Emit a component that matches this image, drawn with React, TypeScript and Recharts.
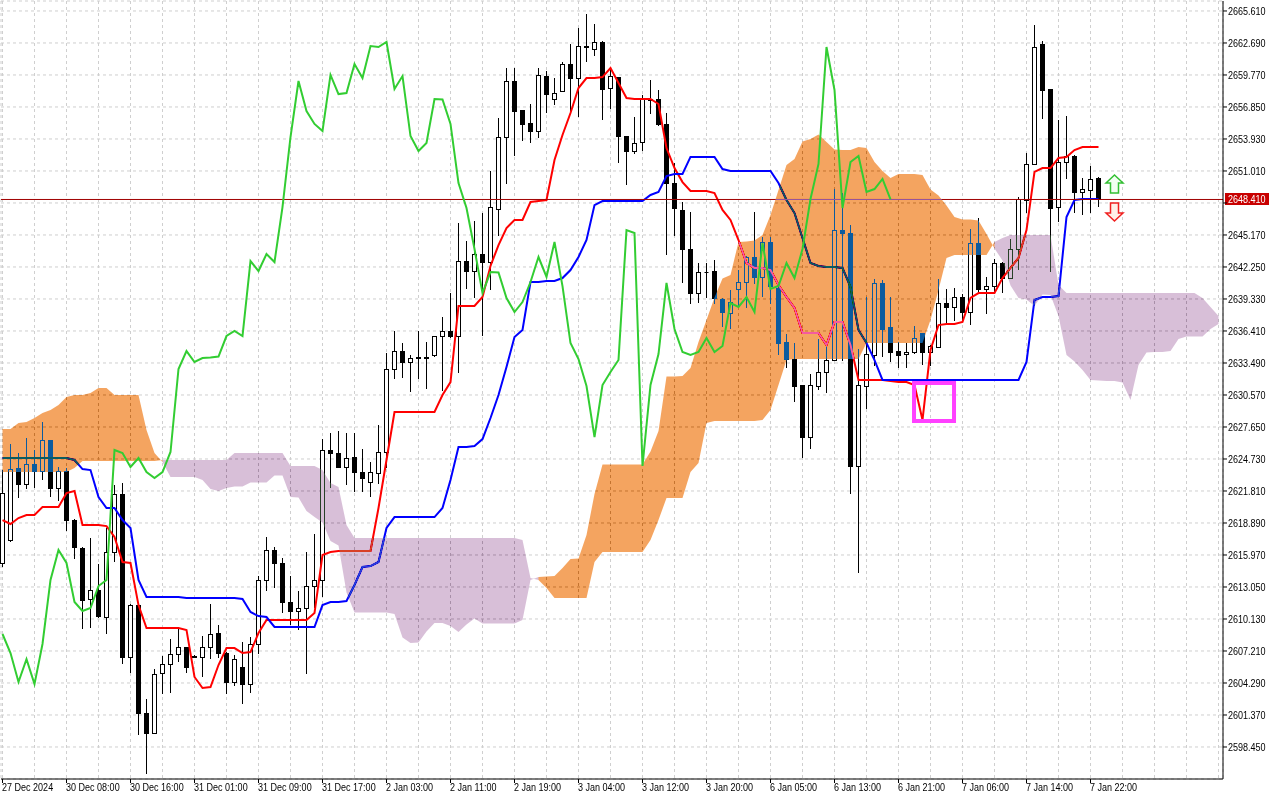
import {
  ComposedChart,
  Bar,
  Line,
  Area,
  XAxis,
  YAxis,
  CartesianGrid,
  ReferenceLine,
  ReferenceArea,
  ReferenceDot,
} from "recharts";

const FONT = "'Liberation Sans', Arial, sans-serif";
const FONT_SIZE = 10.5;
const TEXT_SQUEEZE = 0.86; // terminal font is narrower than Liberation Sans

// XAUUSD H1, bar 0 = 27 Dec 2024 23:00, last bar = 7 Jan 2025 23:00
const OPEN = [
  2615.24, 2617.34, 2623.91, 2622.45, 2624.27, 2623.63, 2626.46, 2622.08, 2623.63, 2619.16,
  2616.6, 2611.95, 2612.77, 2610.31, 2616.24, 2621.53, 2606.66, 2611.4, 2601.55, 2599.72,
  2605.2, 2606.02, 2606.93, 2607.57, 2606.75, 2606.66, 2607.57, 2608.85, 2607.02, 2604.38,
  2605.75, 2604.19, 2607.85, 2613.69, 2616.42, 2615.24, 2611.68, 2610.86, 2611.13, 2613.14,
  2613.69, 2625.55, 2625.27, 2624.0, 2624.91, 2623.54, 2622.63, 2623.45, 2625.37, 2632.94,
  2634.58, 2633.58, 2634.04, 2633.99, 2634.22, 2635.95, 2636.41, 2635.95, 2642.79, 2641.88,
  2643.43, 2642.7, 2647.54, 2654.11, 2659.22, 2656.57, 2655.39, 2654.66, 2659.67, 2657.58,
  2658.31, 2660.77, 2659.49, 2662.37, 2662.14, 2662.78, 2658.58, 2659.58, 2654.2, 2652.83,
  2653.65, 2657.58, 2657.58, 2655.3, 2649.91, 2647.45, 2643.89, 2639.87, 2641.79, 2641.88,
  2639.33, 2638.05, 2640.24, 2640.88, 2643.16, 2641.34, 2644.53, 2640.33, 2635.4, 2633.85,
  2631.48, 2626.73, 2631.39, 2632.67, 2633.76, 2645.62, 2645.35, 2624.09, 2631.39, 2634.22,
  2640.79, 2636.77, 2634.58, 2634.31, 2634.49, 2636.22, 2634.49, 2634.95, 2638.96, 2638.6,
  2639.51, 2638.14, 2644.43, 2640.24, 2640.51, 2642.61, 2641.24, 2643.89, 2648.36, 2651.65,
  2662.59, 2658.49, 2647.72, 2651.83, 2652.38, 2649.09, 2649.27, 2650.37,
];

const HIGH = [
  2623.72, 2626.1, 2625.27, 2626.64, 2625.55, 2628.1, 2626.46, 2624.0, 2623.91, 2619.25,
  2616.7, 2617.52, 2615.15, 2618.43, 2622.35, 2622.54, 2611.49, 2611.4, 2602.83, 2605.56,
  2606.75, 2608.3, 2609.4, 2607.57, 2606.84, 2608.58, 2611.49, 2609.58, 2607.11, 2606.84,
  2608.03, 2608.49, 2614.05, 2617.61, 2616.7, 2615.69, 2614.05, 2612.68, 2616.24, 2617.88,
  2626.55, 2627.1, 2627.28, 2627.1, 2627.1, 2625.64, 2624.45, 2627.83, 2634.4, 2636.41,
  2635.31, 2634.22, 2636.41, 2635.4, 2635.95, 2637.69, 2639.87, 2646.26, 2644.62, 2646.44,
  2647.17, 2651.01, 2655.84, 2660.4, 2660.4, 2656.57, 2657.12, 2660.4, 2660.13, 2659.49,
  2660.95, 2662.59, 2664.05, 2665.33, 2664.42, 2662.87, 2660.5, 2659.58, 2654.2, 2655.93,
  2657.94, 2659.31, 2658.4, 2656.3, 2651.74, 2648.18, 2647.27, 2642.61, 2642.61, 2642.89,
  2639.42, 2640.15, 2641.97, 2643.25, 2647.27, 2644.99, 2644.99, 2640.79, 2636.13, 2635.31,
  2631.48, 2632.48, 2635.68, 2635.04, 2649.36, 2649.0, 2646.08, 2634.77, 2639.51, 2641.16,
  2641.06, 2639.51, 2635.4, 2635.31, 2636.87, 2636.22, 2635.13, 2641.16, 2640.24, 2640.33,
  2639.78, 2645.71, 2646.72, 2641.34, 2642.97, 2642.7, 2644.8, 2648.64, 2652.65, 2664.33,
  2662.87, 2658.49, 2655.66, 2656.03, 2652.47, 2650.37, 2651.46, 2650.46,
];

const LOW = [
  2614.96, 2617.24, 2621.26, 2622.08, 2622.17, 2622.9, 2621.35, 2620.99, 2618.25, 2615.69,
  2609.31, 2609.4, 2610.31, 2608.85, 2615.42, 2606.11, 2605.29, 2599.63, 2596.07, 2599.72,
  2603.37, 2603.46, 2606.29, 2605.29, 2606.66, 2604.93, 2606.57, 2606.66, 2603.37, 2604.1,
  2602.46, 2603.46, 2607.02, 2612.77, 2613.05, 2610.77, 2609.67, 2609.22, 2605.2, 2611.22,
  2612.22, 2622.17, 2624.0, 2622.45, 2621.81, 2621.81, 2621.35, 2622.54, 2624.0, 2632.12,
  2632.21, 2630.93, 2632.12, 2631.2, 2634.13, 2631.02, 2635.86, 2632.67, 2640.33, 2639.51,
  2636.04, 2640.24, 2645.17, 2649.91, 2652.47, 2653.84, 2653.65, 2654.11, 2656.39, 2657.12,
  2658.31, 2656.57, 2656.03, 2661.04, 2661.59, 2655.75, 2656.75, 2651.83, 2649.82, 2652.65,
  2652.92, 2656.3, 2655.21, 2643.43, 2645.17, 2640.88, 2638.96, 2639.05, 2639.51, 2638.96,
  2636.87, 2636.68, 2638.69, 2638.6, 2640.79, 2639.6, 2638.96, 2634.31, 2633.12, 2630.02,
  2624.91, 2625.73, 2631.11, 2630.84, 2633.76, 2633.76, 2621.62, 2614.42, 2629.38, 2633.31,
  2634.13, 2633.67, 2633.12, 2633.12, 2634.4, 2633.4, 2633.31, 2634.95, 2637.05, 2637.41,
  2637.41, 2637.05, 2639.87, 2638.05, 2640.06, 2639.97, 2641.24, 2642.06, 2647.27, 2651.65,
  2655.84, 2641.88, 2646.44, 2650.37, 2647.27, 2647.08, 2647.27, 2647.81,
];

const CLOSE = [
  2621.62, 2623.81, 2622.45, 2624.27, 2623.63, 2626.46, 2622.08, 2623.63, 2619.16, 2616.7,
  2611.86, 2612.77, 2610.4, 2616.24, 2621.53, 2606.66, 2611.4, 2601.55, 2599.72, 2605.11,
  2606.02, 2606.93, 2607.57, 2605.75, 2606.7, 2607.57, 2608.76, 2607.02, 2604.38, 2606.47,
  2604.19, 2607.85, 2613.69, 2616.42, 2615.24, 2611.68, 2610.86, 2611.13, 2613.14, 2613.69,
  2625.55, 2625.27, 2624.0, 2624.82, 2623.54, 2622.99, 2623.54, 2625.37, 2632.94, 2634.58,
  2633.58, 2633.94, 2633.99, 2634.08, 2635.95, 2636.41, 2635.95, 2642.79, 2641.88, 2643.43,
  2642.7, 2647.72, 2654.11, 2659.22, 2656.48, 2655.3, 2654.66, 2659.77, 2658.03, 2658.12,
  2660.77, 2659.49, 2662.41, 2662.32, 2662.78, 2658.49, 2659.67, 2654.2, 2652.83, 2653.56,
  2657.58, 2657.53, 2655.3, 2649.91, 2647.63, 2643.89, 2639.87, 2641.79, 2641.75, 2639.42,
  2638.14, 2639.05, 2640.88, 2643.16, 2641.34, 2644.53, 2640.51, 2635.31, 2633.85, 2631.39,
  2626.73, 2631.48, 2632.67, 2633.76, 2645.62, 2645.35, 2624.09, 2631.48, 2634.31, 2640.79,
  2636.59, 2634.49, 2634.22, 2634.49, 2635.77, 2634.49, 2635.04, 2638.96, 2638.6, 2639.51,
  2638.14, 2644.43, 2640.24, 2640.51, 2642.61, 2641.24, 2643.89, 2648.45, 2651.65, 2662.32,
  2658.4, 2647.63, 2651.83, 2652.38, 2649.09, 2649.36, 2650.28, 2648.41,
];

// Tenkan-sen (9)
const TENKAN = [
  2619.16, 2618.8, 2619.34, 2619.62, 2619.62, 2620.35, 2620.35, 2620.35, 2621.62, 2621.81,
  2618.71, 2618.71, 2618.71, 2618.61, 2617.61, 2615.33, 2615.24, 2611.4, 2609.31, 2609.31,
  2609.31, 2609.31, 2609.31, 2609.13, 2604.84, 2603.83, 2603.92, 2605.93, 2607.48, 2607.48,
  2607.02, 2607.11, 2608.85, 2610.04, 2610.04, 2610.04, 2610.04, 2610.04, 2610.04, 2610.67,
  2615.97, 2616.24, 2616.33, 2616.33, 2616.33, 2616.33, 2616.33, 2620.26, 2624.64, 2629.02,
  2629.02, 2629.02, 2629.02, 2629.02, 2629.02, 2630.57, 2631.75, 2638.69, 2638.69, 2638.69,
  2639.51, 2642.34, 2644.25, 2645.81, 2646.54, 2646.54, 2648.18, 2648.27, 2648.36, 2652.01,
  2654.29, 2656.3, 2658.58, 2659.49, 2659.49, 2659.58, 2660.4, 2659.04, 2657.67, 2657.58,
  2657.58, 2657.58, 2657.12, 2653.1, 2651.28, 2650.0, 2649.18, 2649.18, 2649.18, 2649.0,
  2647.45, 2646.54, 2644.71, 2642.61, 2642.16, 2642.16, 2641.97, 2640.6, 2639.51, 2638.51,
  2636.22, 2636.22, 2636.22, 2635.13, 2637.23, 2637.23, 2635.13, 2631.94, 2631.94, 2631.94,
  2631.94, 2631.85, 2631.75, 2631.75, 2631.48, 2628.29, 2634.67, 2636.95, 2637.05, 2637.05,
  2637.23, 2639.42, 2639.87, 2639.87, 2639.87, 2641.24, 2642.16, 2643.07, 2645.62, 2650.92,
  2651.28, 2651.28, 2652.19, 2652.29, 2652.92, 2653.2, 2653.2, 2653.2,
];

// Kijun-sen (26)
const KIJUN = [
  2624.82, 2624.82, 2624.82, 2624.82, 2624.82, 2624.82, 2624.82, 2624.82, 2624.82, 2624.64,
  2623.81, 2623.72, 2621.26, 2620.26, 2620.26, 2619.16, 2618.43, 2613.69, 2612.14, 2612.14,
  2612.14, 2612.14, 2612.14, 2612.04, 2612.04, 2612.04, 2612.04, 2612.04, 2612.04, 2612.04,
  2611.95, 2610.77, 2610.4, 2610.31, 2609.4, 2609.4, 2609.4, 2609.4, 2609.4, 2609.4,
  2611.4, 2611.68, 2611.68, 2611.77, 2613.23, 2614.87, 2614.96, 2615.33, 2618.43, 2619.43,
  2619.43, 2619.43, 2619.43, 2619.43, 2619.43, 2620.26, 2622.81, 2625.82, 2625.82, 2625.91,
  2626.55, 2628.47, 2630.57, 2633.12, 2635.86, 2636.5, 2640.88, 2640.88, 2640.97, 2640.97,
  2641.24, 2641.97, 2643.16, 2644.71, 2647.9, 2648.27, 2648.27, 2648.27, 2648.27, 2648.27,
  2648.27, 2648.82, 2649.09, 2650.55, 2650.73, 2650.73, 2652.29, 2652.29, 2652.29, 2652.29,
  2651.19, 2651.01, 2651.01, 2651.01, 2651.01, 2651.01, 2651.01, 2649.91, 2648.36, 2647.17,
  2644.89, 2642.61, 2642.34, 2642.25, 2642.25, 2642.16, 2640.42, 2636.5, 2635.31, 2633.76,
  2631.94, 2631.94, 2631.94, 2631.94, 2631.94, 2631.94, 2631.94, 2631.94, 2631.94, 2631.94,
  2631.94, 2631.94, 2631.94, 2631.94, 2631.94, 2631.94, 2631.94, 2631.94, 2633.58, 2639.24,
  2639.51, 2639.51, 2639.6, 2646.81, 2648.36, 2648.45, 2648.45, 2648.45,
];

// Senkou Span A / B as displayed (already shifted 26 bars forward)
const SPAN_A = [
  2627.46, 2627.46, 2628.01, 2628.1, 2628.47, 2628.92, 2629.2, 2629.65, 2630.38, 2630.57,
  2630.57, 2630.75, 2631.2, 2631.2, 2630.57, 2630.57, 2630.57, 2630.57, 2627.37, 2625.27,
  2624.45, 2623.08, 2623.08, 2623.08, 2623.08, 2622.81, 2621.99, 2621.81, 2622.08, 2622.22,
  2622.22, 2622.58, 2622.58, 2622.58, 2623.22, 2623.22, 2621.26, 2621.22, 2619.98, 2619.43,
  2618.93, 2617.24, 2616.83, 2612.55, 2610.72, 2610.72, 2610.72, 2610.72, 2610.72, 2610.59,
  2608.44, 2607.94, 2607.98, 2608.98, 2609.76, 2609.76, 2609.49, 2608.94, 2609.62, 2610.17,
  2609.71, 2609.71, 2609.71, 2609.71, 2609.71, 2610.04, 2613.69, 2613.96, 2614.01, 2614.05,
  2614.78, 2615.6, 2615.65, 2617.79, 2621.53, 2624.23, 2624.23, 2624.23, 2624.23, 2624.23,
  2624.23, 2625.41, 2627.28, 2632.25, 2632.25, 2632.3, 2633.03, 2635.4, 2637.41, 2639.46,
  2641.2, 2641.52, 2644.53, 2644.57, 2644.66, 2645.17, 2646.99, 2649.27, 2651.55, 2652.1,
  2653.7, 2653.93, 2654.34, 2653.65, 2652.97, 2652.92, 2652.92, 2653.2, 2653.1, 2651.83,
  2651.01, 2650.37, 2650.73, 2650.73, 2650.73, 2650.64, 2649.32, 2648.77, 2647.86, 2646.81,
  2646.58, 2646.58, 2646.49, 2645.26, 2643.94, 2642.84, 2640.56, 2639.42, 2639.28, 2638.69,
  2639.74, 2639.69, 2637.78, 2634.22, 2633.63, 2632.85, 2631.94, 2631.89, 2631.85, 2631.85,
  2631.71, 2630.11, 2633.31, 2634.45, 2634.49, 2634.49, 2634.58, 2635.68, 2635.91, 2635.91,
  2635.91, 2636.59, 2637.05,
];

const SPAN_B = [
  2623.54, 2623.54, 2623.54, 2623.54, 2623.54, 2623.54, 2623.54, 2623.54, 2623.54, 2623.91,
  2624.55, 2624.55, 2624.55, 2624.55, 2624.55, 2624.55, 2624.55, 2624.55, 2624.55, 2624.55,
  2624.64, 2624.64, 2624.64, 2624.64, 2624.64, 2624.64, 2624.64, 2624.64, 2624.64, 2625.27,
  2625.27, 2625.27, 2625.27, 2625.27, 2625.27, 2625.27, 2624.09, 2624.09, 2624.09, 2624.09,
  2623.72, 2622.54, 2622.17, 2618.71, 2617.52, 2617.52, 2617.52, 2617.52, 2617.52, 2617.52,
  2617.52, 2617.52, 2617.52, 2617.52, 2617.52, 2617.52, 2617.52, 2617.52, 2617.52, 2617.52,
  2617.52, 2617.52, 2617.52, 2617.52, 2617.52, 2617.34, 2613.87, 2613.69, 2612.96, 2612.04,
  2612.04, 2612.04, 2612.04, 2612.04, 2615.33, 2616.24, 2616.24, 2616.24, 2616.24, 2616.24,
  2616.24, 2617.34, 2619.16, 2621.17, 2621.17, 2621.17, 2623.54, 2624.36, 2628.01, 2628.19,
  2628.19, 2628.19, 2628.19, 2628.19, 2628.19, 2628.29, 2629.2, 2631.48, 2633.76, 2633.85,
  2633.85, 2633.85, 2633.85, 2633.85, 2633.85, 2633.85, 2633.85, 2633.85, 2635.31, 2635.31,
  2635.31, 2635.31, 2635.31, 2635.31, 2635.31, 2635.31, 2637.41, 2640.15, 2643.07, 2643.34,
  2643.34, 2643.34, 2643.34, 2643.34, 2644.53, 2644.89, 2645.17, 2645.17, 2645.17, 2645.17,
  2645.17, 2645.17, 2640.6, 2639.87, 2639.87, 2639.87, 2639.87, 2639.87, 2639.87, 2639.87,
  2639.87, 2639.87, 2639.87, 2639.87, 2639.87, 2639.87, 2639.87, 2639.87, 2639.87, 2639.87,
  2639.42, 2638.6, 2637.78,
];

const CHIKOU_SHIFT = 26;

// one label every 8 bars, starting at bar 0
const X_LABELS = [
  "27 Dec 2024", "30 Dec 08:00", "30 Dec 16:00", "31 Dec 01:00", "31 Dec 09:00",
  "31 Dec 17:00", "2 Jan 03:00", "2 Jan 11:00", "2 Jan 19:00", "3 Jan 04:00",
  "3 Jan 12:00", "3 Jan 20:00", "6 Jan 05:00", "6 Jan 13:00", "6 Jan 21:00",
  "7 Jan 06:00", "7 Jan 14:00", "7 Jan 22:00",
];

const X_TICKS = [
  0, 4, 8, 12, 16, 20, 24, 28, 32, 36, 40, 44, 48, 52, 56, 60, 64, 68, 72, 76,
  80, 84, 88, 92, 96, 100, 104, 108, 112, 116, 120, 124, 128, 132, 136, 140, 144, 148, 152,
];

const Y_TICKS = [
  2598.45, 2601.37, 2604.29, 2607.21, 2610.13, 2613.05, 2615.97, 2618.89, 2621.81, 2624.73,
  2627.65, 2630.57, 2633.49, 2636.41, 2639.33, 2642.25, 2645.17, 2648.09, 2651.01, 2653.93,
  2656.85, 2659.77, 2662.69, 2665.61,
];

const X_DOMAIN = [-0.1875, 152.5625];
const Y_DOMAIN = [2595.53, 2666.52];

const LAST_PRICE = CLOSE[CLOSE.length - 1];

// marked zone and signal arrows
const BOX = { x1: 113.94, x2: 118.94, y1: 2628.19, y2: 2631.66 };
const ARROW_BAR = 139;
const ARROW_UP_PRICE = 2649.82;
const ARROW_DOWN_PRICE = 2647.27;

const rows = SPAN_A.map((a, k) => {
  const b = SPAN_B[k];
  const up = a >= b;
  const prevUp = k > 0 && SPAN_A[k - 1] >= SPAN_B[k - 1];
  const prevDown = k > 0 && SPAN_A[k - 1] < SPAN_B[k - 1];
  const hasBar = k < CLOSE.length;
  return {
    k,
    o: hasBar ? OPEN[k] : null,
    h: hasBar ? HIGH[k] : null,
    l: hasBar ? LOW[k] : null,
    c: hasBar ? CLOSE[k] : null,
    tenkan: hasBar ? TENKAN[k] : null,
    kijun: hasBar ? KIJUN[k] : null,
    chikou: k + CHIKOU_SHIFT < CLOSE.length ? CLOSE[k + CHIKOU_SHIFT] : null,
    bull: up || prevUp ? [b, a] : null,
    bear: !up || prevDown ? [a, b] : null,
  };
});

function Candle(props: any) {
  const { x, y, width, height, payload } = props;
  if (!payload || payload.h == null || !Number.isFinite(y) || !Number.isFinite(height)) return <g />;
  const { o, h, l, c } = payload;
  const top = Math.min(y, y + height);
  const span = Math.abs(height);
  const range = h - l || 1;
  const py = (v: number) => top + ((h - v) / range) * span;
  const cx = Math.floor(x + width / 2) + 0.5;
  const bx = Math.round(x) + 0.5;
  const bTop = Math.round(py(Math.max(o, c)));
  const bBot = Math.round(py(Math.min(o, c)));
  const bull = c >= o;
  return (
    <g>
      <line x1={cx} x2={cx} y1={Math.round(top)} y2={Math.round(top + span) + 1} stroke="#000" strokeWidth={1} />
      {bBot - bTop < 1 ? (
        <line x1={bx} x2={bx + 4} y1={bTop + 0.5} y2={bTop + 0.5} stroke="#000" strokeWidth={1} />
      ) : (
        <rect
          x={bx}
          y={bTop + 0.5}
          width={4}
          height={bBot - bTop}
          fill={bull ? "#fff" : "#000"}
          stroke="#000"
          strokeWidth={1}
        />
      )}
    </g>
  );
}

function Label({ x, y, fill = "#000", children }: any) {
  return (
    <text
      transform={`translate(${x},${y}) scale(${TEXT_SQUEEZE},1)`}
      fontSize={FONT_SIZE}
      fontFamily={FONT}
      fill={fill}
      textAnchor="start"
    >
      {children}
    </text>
  );
}

function XTick(props: any) {
  const { x, y, payload } = props;
  const idx = payload.value / 8;
  const label = Number.isInteger(idx) ? X_LABELS[idx] : undefined;
  if (!label) return <g />;
  return (
    <g>
      <line x1={x} x2={x} y1={y} y2={y + 4} stroke="#000" />
      <Label x={x - 0.5} y={y + 12}>{label}</Label>
    </g>
  );
}

function YTick(props: any) {
  const { x, y, payload } = props;
  // the tick hidden behind the last-price tag is not printed
  const hidden = Math.abs(payload.value - LAST_PRICE) < 1;
  return (
    <g>
      <line x1={x} x2={x + 4} y1={y} y2={y} stroke="#000" />
      {!hidden && <Label x={x + 5} y={y + 4}>{Number(payload.value).toFixed(3)}</Label>}
    </g>
  );
}

function PriceTag(props: any) {
  const vb = props.viewBox;
  if (!vb) return null;
  const x = vb.x + vb.width + 2;
  const y = Math.round(vb.y);
  return (
    <g>
      <rect x={x} y={y - 6} width={44} height={12} fill="#c80000" />
      <Label x={x + 3} y={y + 4} fill="#fff">{LAST_PRICE.toFixed(3)}</Label>
    </g>
  );
}

function ArrowUp(props: any) {
  const { cx, cy } = props;
  const d = `M${cx},${cy - 9} L${cx + 8.5},${cy - 1} L${cx + 4},${cy - 1} L${cx + 4},${cy + 9} L${cx - 4},${cy + 9} L${cx - 4},${cy - 1} L${cx - 8.5},${cy - 1} Z`;
  return <path d={d} fill="#f2fff2" stroke="#33c033" strokeWidth={1.5} />;
}

function ArrowDown(props: any) {
  const { cx, cy } = props;
  const d = `M${cx},${cy + 9} L${cx + 8.5},${cy + 1} L${cx + 4},${cy + 1} L${cx + 4},${cy - 9} L${cx - 4},${cy - 9} L${cx - 4},${cy + 1} L${cx - 8.5},${cy + 1} Z`;
  return <path d={d} fill="#fff0e8" stroke="#f02020" strokeWidth={1.5} />;
}

export default function App() {
  return (
    <div style={{ position: "absolute", left: 0, top: 0, width: 1280, height: 800, background: "#fff" }}>
      <style>{`.recharts-area { mix-blend-mode: difference; }`}</style>
      <ComposedChart width={1280} height={800} data={rows} margin={{ top: 1, right: 0, bottom: 0, left: 1 }}>
        <CartesianGrid stroke="#cfcfcf" strokeDasharray="3 3" fill="#fff" fillOpacity={1} />
        <XAxis
          dataKey="k"
          type="number"
          domain={X_DOMAIN}
          ticks={X_TICKS}
          interval={0}
          height={21}
          tickSize={0}
          tickMargin={0}
          tickLine={false}
          axisLine={{ stroke: "#000" }}
          tick={<XTick />}
        />
        <XAxis
          xAxisId="top"
          orientation="top"
          type="number"
          domain={X_DOMAIN}
          height={0}
          tick={false}
          tickLine={false}
          axisLine={{ stroke: "#000" }}
        />
        <YAxis
          orientation="right"
          type="number"
          domain={Y_DOMAIN}
          ticks={Y_TICKS}
          interval={0}
          width={57}
          tickSize={0}
          tickMargin={0}
          tickLine={false}
          axisLine={{ stroke: "#000" }}
          tick={<YTick />}
        />
        <YAxis
          yAxisId="left"
          orientation="left"
          type="number"
          domain={[0, 1]}
          width={0}
          tick={false}
          tickLine={false}
          axisLine={{ stroke: "#000" }}
        />

        <Bar
          dataKey={(d: any) => (d.h == null ? null : [d.l, d.h])}
          barSize={5}
          shape={<Candle />}
          isAnimationActive={false}
          zIndex={300}
        />
        <Line dataKey="tenkan" stroke="#ff0000" strokeWidth={2} dot={false} activeDot={false} isAnimationActive={false} zIndex={400} />
        <Line dataKey="kijun" stroke="#0000ff" strokeWidth={2} dot={false} activeDot={false} isAnimationActive={false} zIndex={401} />
        <ReferenceLine y={LAST_PRICE} stroke="#a00000" strokeWidth={1} label={<PriceTag />} zIndex={410} />

        <Area
          dataKey="bull"
          type="linear"
          stroke="none"
          fill="#0b5b9f"
          fillOpacity={1}
          dot={false}
          activeDot={false}
          isAnimationActive={false}
          zIndex={450}
        />
        <Area
          dataKey="bear"
          type="linear"
          stroke="none"
          fill="#274027"
          fillOpacity={1}
          dot={false}
          activeDot={false}
          isAnimationActive={false}
          zIndex={451}
        />

        <Line dataKey="chikou" stroke="#32cd32" strokeWidth={2} dot={false} activeDot={false} isAnimationActive={false} zIndex={460} />

        <ReferenceArea
          x1={BOX.x1}
          x2={BOX.x2}
          y1={BOX.y1}
          y2={BOX.y2}
          fill="none"
          fillOpacity={0}
          stroke="#ff40ff"
          strokeWidth={4}
          zIndex={470}
        />
        <ReferenceDot x={ARROW_BAR} y={ARROW_UP_PRICE} r={9} shape={<ArrowUp />} zIndex={480} />
        <ReferenceDot x={ARROW_BAR} y={ARROW_DOWN_PRICE} r={9} shape={<ArrowDown />} zIndex={480} />
      </ComposedChart>
    </div>
  );
}
